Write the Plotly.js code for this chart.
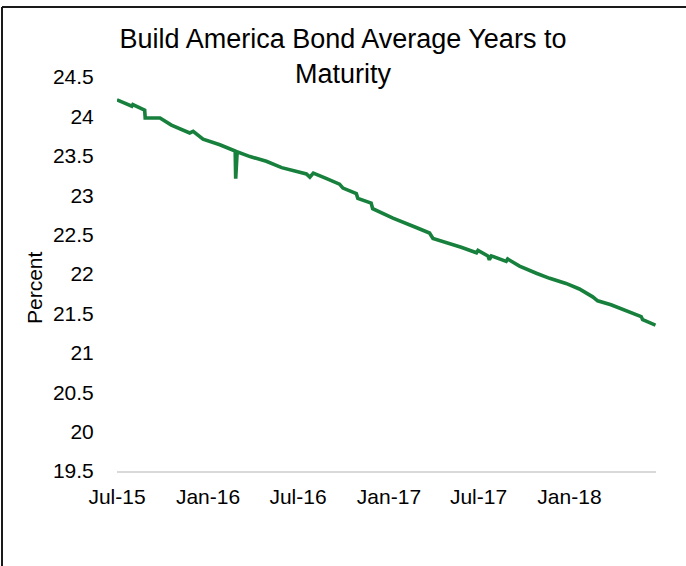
<!DOCTYPE html>
<html>
<head>
<meta charset="utf-8">
<script src="https://cdn.plot.ly/plotly-3.0.1.min.js"></script>
<style>
  html, body { margin: 0; padding: 0; background: #ffffff; }
  #chart { width: 686px; height: 566px; }
</style>
</head>
<body>
<div id="chart"></div>
<script>
// ---- data ----
const dates = [
  "2015-07-01", "2015-07-31", "2015-08-02", "2015-08-20", "2015-08-26", "2015-08-27",
  "2015-09-26", "2015-10-19", "2015-11-25", "2015-12-02", "2015-12-12", "2015-12-22",
  "2016-01-25", "2016-02-21", "2016-02-25", "2016-02-26", "2016-02-29", "2016-03-26",
  "2016-04-28", "2016-05-29", "2016-06-28", "2016-07-18", "2016-07-25", "2016-08-01",
  "2016-08-28", "2016-09-23", "2016-09-30", "2016-10-27", "2016-10-30", "2016-11-26",
  "2016-11-29", "2017-01-09", "2017-02-25", "2017-03-24", "2017-03-31", "2017-04-27",
  "2017-05-27", "2017-06-27", "2017-06-30", "2017-07-20", "2017-07-23", "2017-07-27",
  "2017-08-26", "2017-08-29", "2017-09-22", "2017-10-26", "2017-11-22", "2017-12-25",
  "2018-01-21", "2018-02-17", "2018-02-27", "2018-03-26", "2018-04-26", "2018-05-26",
  "2018-05-29", "2018-06-24"
];
const yearsToMaturity = [
  24.21, 24.13, 24.15, 24.09, 24.08, 23.98,
  23.98, 23.89, 23.79, 23.81, 23.76, 23.71,
  23.64, 23.57, 23.56, 23.21, 23.55, 23.49,
  23.43, 23.35, 23.30, 23.27, 23.23, 23.28,
  23.21, 23.14, 23.09, 23.02, 22.96, 22.90,
  22.83, 22.71, 22.59, 22.52, 22.45, 22.40,
  22.34, 22.27, 22.30, 22.23, 22.18, 22.23,
  22.16, 22.19, 22.10, 22.01, 21.945, 21.88,
  21.81, 21.71, 21.66, 21.61, 21.54, 21.46,
  21.42, 21.35
];
const xTickVals = ["2015-07-01", "2016-01-01", "2016-07-01", "2017-01-01", "2017-07-01", "2018-01-01"];
const xTickText = ["Jul-15", "Jan-16", "Jul-16", "Jan-17", "Jul-17", "Jan-18"];
const yTickVals = [19.5, 20, 20.5, 21, 21.5, 22, 22.5, 23, 23.5, 24, 24.5];
const yTickText = ["19.5", "20", "20.5", "21", "21.5", "22", "22.5", "23", "23.5", "24", "24.5"];

// ---- layout geometry ----
const W = 686, H = 566;
const M = { l: 117, r: 30, t: 77, b: 95 };
const pw = W - M.l - M.r, ph = H - M.t - M.b;
const px2x = p => (p - M.l) / pw;
const px2y = p => (H - M.b - p) / ph;
const FONT = "Liberation Sans, Arial, sans-serif";

const trace = {
  type: "scatter",
  mode: "lines",
  x: dates,
  y: yearsToMaturity,
  line: { color: "#17803c", width: 3.6 },
  hoverinfo: "x+y"
};

const layout = {
  width: W, height: H,
  margin: M,
  paper_bgcolor: "#ffffff",
  plot_bgcolor: "#ffffff",
  showlegend: false,
  font: { family: FONT, color: "#000000", size: 21 },
  title: {
    text: "Build America Bond Average Years to<br>Maturity",
    font: { family: FONT, size: 27, color: "#000000" },
    xref: "container", x: 0.5, xanchor: "center",
    yref: "container", y: 1 - 48 / H, yanchor: "top"
  },
  xaxis: {
    type: "date",
    range: ["2015-07-01", "2018-06-25"],
    tickmode: "array",
    tickvals: xTickVals,
    ticktext: xTickText,
    showgrid: false,
    zeroline: false,
    showline: true,
    linecolor: "#d9d9d9",
    linewidth: 1.5,
    ticks: "outside",
    ticklen: 6,
    tickcolor: "rgba(0,0,0,0)",
    tickfont: { family: FONT, size: 21, color: "#000000" }
  },
  yaxis: {
    range: [19.5, 24.5],
    tickmode: "array",
    tickvals: yTickVals,
    ticktext: yTickText,
    showgrid: false,
    zeroline: false,
    showline: false,
    ticks: "outside",
    ticklen: 18,
    tickcolor: "rgba(0,0,0,0)",
    tickfont: { family: FONT, size: 21, color: "#000000" }
  },
  annotations: [{
    text: "Percent",
    xref: "paper", yref: "paper",
    x: px2x(34), y: px2y(288),
    xanchor: "center", yanchor: "middle",
    textangle: -90,
    showarrow: false,
    font: { family: FONT, size: 21, color: "#000000" }
  }],
  shapes: [
    { type: "line", xref: "paper", yref: "paper",
      x0: px2x(2), x1: px2x(W + 2), y0: px2y(7), y1: px2y(7),
      line: { color: "#1a1a1a", width: 2 } },
    { type: "line", xref: "paper", yref: "paper",
      x0: px2x(2), x1: px2x(2), y0: px2y(7), y1: px2y(H + 2),
      line: { color: "#1a1a1a", width: 2 } }
  ]
};

Plotly.newPlot("chart", [trace], layout, { displayModeBar: false, staticPlot: true });
</script>
</body>
</html>
